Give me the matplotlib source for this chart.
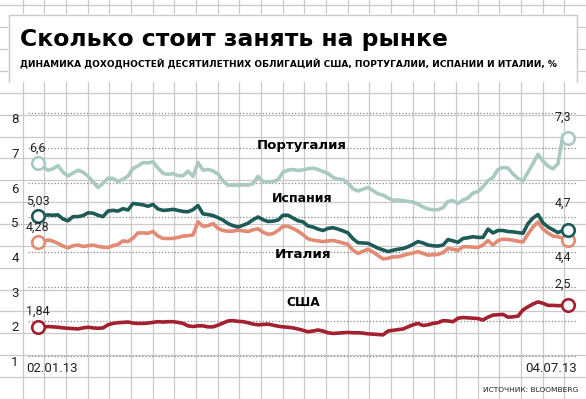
import numpy as np
import matplotlib
matplotlib.use("Agg")
import matplotlib.pyplot as plt
from matplotlib import transforms, font_manager
from matplotlib.patches import Rectangle

# ---------------- data ----------------
start_label = "02.01.13"
end_label = "04.07.13"
y_ticks = [1, 2, 3, 4, 5, 6, 7, 8]

portugal = [6.56, 6.45, 6.36, 6.40, 6.49, 6.30, 6.19, 6.28, 6.36, 6.30,
            6.19, 6.02, 5.86, 5.98, 6.13, 6.12, 6.03, 6.10, 6.19, 6.41,
            6.48, 6.58, 6.57, 6.60, 6.42, 6.27, 6.24, 6.26, 6.20, 6.20,
            6.33, 6.18, 6.58, 6.36, 6.38, 6.34, 6.25, 6.05, 5.93, 5.93,
            5.92, 5.94, 5.93, 5.97, 6.18, 6.03, 6.02, 6.03, 6.08, 6.30,
            6.36, 6.38, 6.35, 6.37, 6.40, 6.42, 6.38, 6.32, 6.27, 6.15,
            6.10, 6.09, 5.98, 5.82, 5.76, 5.81, 5.86, 5.77, 5.68, 5.64,
            5.56, 5.49, 5.50, 5.48, 5.46, 5.44, 5.38, 5.30, 5.24, 5.22,
            5.22, 5.28, 5.46, 5.48, 5.40, 5.50, 5.56, 5.70, 5.74, 5.88,
            6.06, 6.15, 6.38, 6.44, 6.42, 6.25, 6.12, 6.05, 6.30, 6.55,
            6.82, 6.62, 6.48, 6.40, 6.55, 7.38, 7.28]

spain = [5.03, 5.05, 5.07, 5.06, 5.07, 4.95, 4.90, 5.02, 5.02, 5.05,
         5.13, 5.12, 5.06, 5.02, 5.18, 5.20, 5.18, 5.25, 5.21, 5.40,
         5.38, 5.36, 5.32, 5.37, 5.24, 5.20, 5.21, 5.23, 5.20, 5.17,
         5.16, 5.22, 5.34, 5.10, 5.08, 5.05, 4.99, 4.92, 4.82, 4.76,
         4.72, 4.77, 4.83, 4.93, 5.01, 4.93, 4.88, 4.89, 4.92, 5.06,
         5.06, 4.98, 4.90, 4.87, 4.75, 4.72, 4.66, 4.62, 4.68, 4.70,
         4.66, 4.61, 4.55, 4.38, 4.27, 4.26, 4.25, 4.18, 4.11, 4.06,
         4.01, 4.05, 4.08, 4.10, 4.15, 4.22, 4.30, 4.26, 4.20, 4.18,
         4.17, 4.20, 4.36, 4.32, 4.28, 4.39, 4.41, 4.44, 4.42, 4.42,
         4.66, 4.55, 4.62, 4.62, 4.59, 4.58, 4.56, 4.54, 4.82, 4.98,
         5.08, 4.84, 4.72, 4.64, 4.56, 4.62, 4.64]

italy = [4.28, 4.30, 4.35, 4.31, 4.25, 4.17, 4.12, 4.18, 4.20, 4.16,
         4.18, 4.20, 4.16, 4.14, 4.13, 4.18, 4.22, 4.32, 4.30, 4.40,
         4.55, 4.55, 4.54, 4.59, 4.46, 4.39, 4.39, 4.39, 4.42, 4.46,
         4.47, 4.49, 4.87, 4.74, 4.76, 4.82, 4.68, 4.62, 4.60, 4.60,
         4.63, 4.61, 4.59, 4.64, 4.67, 4.57, 4.51, 4.53, 4.62, 4.74,
         4.74, 4.68, 4.60, 4.50, 4.38, 4.34, 4.32, 4.30, 4.32, 4.33,
         4.30, 4.26, 4.22, 4.05, 3.96, 4.02, 4.08, 4.00, 3.90, 3.80,
         3.82, 3.86, 3.86, 3.90, 3.94, 3.97, 4.01, 3.96, 3.91, 3.92,
         3.93, 3.98, 4.10, 4.08, 4.05, 4.15, 4.15, 4.14, 4.13, 4.20,
         4.33, 4.20, 4.33, 4.37, 4.36, 4.34, 4.31, 4.29, 4.52, 4.72,
         4.86, 4.66, 4.55, 4.46, 4.44, 4.40, 4.36]

usa = [1.84, 1.83, 1.85, 1.84, 1.83, 1.81, 1.80, 1.79, 1.78, 1.81,
       1.83, 1.81, 1.80, 1.81, 1.90, 1.94, 1.96, 1.97, 1.98, 1.95,
       1.94, 1.94, 1.95, 1.97, 1.99, 1.98, 1.99, 1.99, 1.97, 1.94,
       1.87, 1.85, 1.87, 1.87, 1.84, 1.84, 1.89, 1.95, 2.01, 2.02,
       2.00, 1.99, 1.96, 1.92, 1.90, 1.91, 1.92, 1.89, 1.86, 1.84,
       1.83, 1.81, 1.78, 1.74, 1.70, 1.72, 1.75, 1.72, 1.67, 1.65,
       1.66, 1.67, 1.68, 1.67, 1.67, 1.66, 1.64, 1.63, 1.62, 1.61,
       1.72, 1.74, 1.76, 1.78, 1.84, 1.90, 1.94, 1.88, 1.90, 1.94,
       1.96, 2.02, 2.01, 1.99, 2.09, 2.11, 2.10, 2.09, 2.08, 2.04,
       2.12, 2.18, 2.19, 2.20, 2.12, 2.13, 2.15, 2.33, 2.42, 2.50,
       2.56, 2.52, 2.46, 2.46, 2.45, 2.46, 2.47]

start_values = ["6,6", "5,03", "4,28", "1,84"]
end_values = ["7,3", "4,7", "4,4", "2,5"]
names = ["Португалия", "Испания", "Италия", "США"]
title = "Сколько стоит занять на рынке"
subtitle = ("ДИНАМИКА ДОХОДНОСТЕЙ ДЕСЯТИЛЕТНИХ ОБЛИГАЦИЙ США, "
            "ПОРТУГАЛИИ, ИСПАНИИ И ИТАЛИИ, %")
source = "ИСТОЧНИК: BLOOMBERG"

# ---------------- fonts ----------------
avail = {f.name for f in font_manager.fontManager.ttflist}
NUM = "Roboto" if "Roboto" in avail else "DejaVu Sans"
NARROW = "Liberation Sans Narrow" if "Liberation Sans Narrow" in avail else "DejaVu Sans"

# ---------------- layout ----------------
W, H = 586, 399
fig = plt.figure(figsize=(W / 100, H / 100), dpi=100)
ax = fig.add_axes([0, 0, 1, 1])
ax.set_axis_off()
X0, DX = 38, 5          # pixel of first sample, pixel step
Y1, UNIT = 356, 34.67   # pixel of value 1, pixels per unit
ax.set_xlim(-X0 / DX, (W - X0) / DX)
ax.set_ylim(1 - (H - Y1) / UNIT, 1 + Y1 / UNIT)

P = transforms.Affine2D().scale(1 / W, -1 / H).translate(0, 1) + fig.transFigure
B = transforms.blended_transform_factory(P, ax.transData)

# grid paper
gc = "#c9c9c9"
for k in range(1, 28):
    x = round(21.67 * k) + 0.5
    ax.plot([x, x], [0, H], color=gc, lw=0.9, transform=P, zorder=1)
for k in range(0, 19):
    y = round(4.5 + 21.85 * k) + 0.5
    ax.plot([0, W], [y, y], color=gc, lw=0.9, transform=P, zorder=1)

# white title box
ax.add_patch(Rectangle((8, 14), 569, 68, transform=P, fc="white", ec="none", zorder=2))
ax.plot([8.5, 8.5, 576.5, 576.5], [82, 14.5, 14.5, 82], color=gc, lw=1,
        transform=P, zorder=2.5)

fig.canvas.draw()
R = fig.canvas.get_renderer()


def fit(t, width):
    bb = t.get_window_extent(R)
    t.set_fontsize(t.get_fontsize() * width / bb.width)


t = ax.text(20, 46, title, transform=P, fontsize=16, fontweight="bold",
            family="DejaVu Sans", ha="left", va="baseline", zorder=3)
fit(t, 428)
t = ax.text(20, 67, subtitle, transform=P, fontsize=7, fontweight="bold",
            family=NARROW, ha="left", va="baseline", zorder=3)
fit(t, 535)

# dotted value lines + y labels
xs = np.arange(len(usa))
ax.hlines(y_ticks, (28 - X0) / DX, (576 - X0) / DX, colors="#8a8a8a",
          linestyles=(0, (1, 1.6)), lw=0.9, zorder=3)
for v in y_ticks:
    ax.text(15, v, str(v), transform=B, ha="center", va="top", fontsize=9.5,
            family=NUM, color="#222222", zorder=3)

# series
series = [portugal, usa, italy, spain]
colors = ["#a9c9c2", "#a3202e", "#e38a72", "#1e5b57"]
for s, c in zip(series, colors):
    ax.plot(xs, s, color=c, lw=2.6, solid_joinstyle="round",
            solid_capstyle="round", zorder=4)
    ax.plot([xs[0], xs[-1]], [s[0], s[-1]], "o", ms=9, mfc="white",
            mec=c, mew=1.9, zorder=5)

# end-point value labels
order = [portugal, spain, italy, usa]
left_off = [15, 15, 15, 16]
right_off = [21, 27, -18, 21]
for s, lab, off in zip(order, start_values, left_off):
    ax.annotate(lab, (xs[0], s[0]), xytext=(0, off), textcoords="offset pixels",
                ha="center", va="center", fontsize=9, family=NUM,
                color="#222222", zorder=6)
for s, lab, off in zip(order, end_values, right_off):
    ax.annotate(lab, (xs[-1], s[-1]), xytext=(-5, off), textcoords="offset pixels",
                ha="center", va="center", fontsize=9, family=NUM,
                color="#222222", zorder=6)

# country labels
label_pos = [(302, 145, 89), (302, 198, 61), (303, 255, 56), (303, 302, 33.5)]
for n, (px, py, w) in zip(names, label_pos):
    t = ax.text(px, py, n, transform=P, ha="center", va="center",
                fontsize=11, fontweight="bold", family="DejaVu Sans",
                color="black", zorder=6)
    fit(t, w)

# date labels and source
ax.text(26, 368, start_label, transform=P, ha="left", va="center",
        fontsize=9.5, family=NUM, color="#222222", zorder=3)
ax.text(577, 368, end_label, transform=P, ha="right", va="center",
        fontsize=9.5, family=NUM, color="#222222", zorder=3)
t = ax.text(578, 389.5, source, transform=P, ha="right", va="center",
            fontsize=7, family=NARROW, color="#222222", zorder=3)
fit(t, 96)

fig.savefig("out.png", dpi=100)
